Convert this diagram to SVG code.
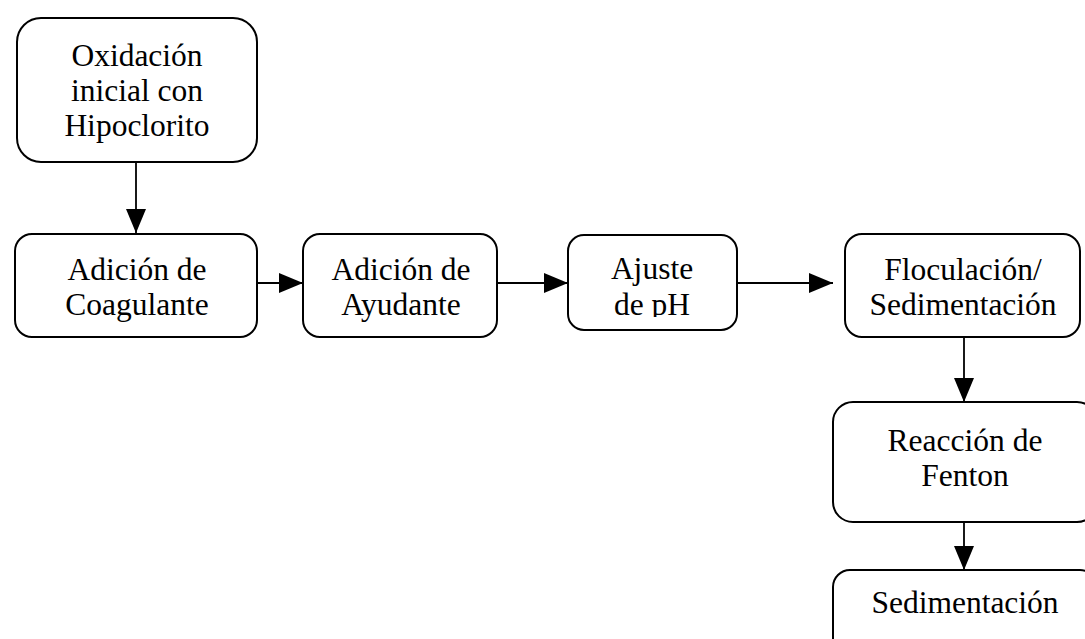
<svg xmlns="http://www.w3.org/2000/svg" width="1085" height="639" viewBox="0 0 1085 639">
<style>
.box{fill:#fff;stroke:#000;stroke-width:2}
.t{font-family:"Liberation Serif","Times New Roman",serif;font-size:31.5px;fill:#000;text-anchor:middle}
.c{stroke:#000;stroke-width:1.8;fill:none;marker-end:url(#ah)}
</style>
<defs>
<marker id="ah" viewBox="0 0 24 20" refX="24" refY="10" markerWidth="24" markerHeight="20" markerUnits="userSpaceOnUse" orient="auto">
<path d="M0,0 L24,10 L0,20 Z" fill="#000"/>
</marker>
<clipPath id="clipPh"><rect x="560" y="230" width="180" height="87"/></clipPath>
</defs>
<rect width="1085" height="639" fill="#fff"/>
<g id="connectors">
<line class="c" x1="136" y1="162" x2="136" y2="233"/>
<line class="c" x1="257" y1="283" x2="303" y2="283"/>
<line class="c" x1="497" y1="283" x2="568" y2="283"/>
<line class="c" x1="737" y1="283" x2="833" y2="283"/>
<line class="c" x1="964" y1="337" x2="964" y2="402"/>
<line class="c" x1="964" y1="522" x2="964" y2="570"/>
</g>
<g id="n1">
<rect class="box" x="17" y="18" width="240" height="144" rx="24"/>
<text class="t" x="137" y="66">Oxidación</text>
<text class="t" x="137" y="101">inicial con</text>
<text class="t" x="137" y="136">Hipoclorito</text>
</g>
<g id="n2">
<rect class="box" x="15" y="234" width="242" height="103" rx="17"/>
<text class="t" x="137" y="280">Adición de</text>
<text class="t" x="137" y="315">Coagulante</text>
</g>
<g id="n3">
<rect class="box" x="303" y="234" width="194" height="103" rx="17"/>
<text class="t" x="401" y="280">Adición de</text>
<text class="t" x="401" y="315">Ayudante</text>
</g>
<g id="n4">
<rect class="box" x="568" y="235" width="169" height="95" rx="16"/>
<g clip-path="url(#clipPh)">
<text class="t" x="652" y="279">Ajuste</text>
<text class="t" x="652" y="315">de pH</text>
</g>
</g>
<g id="n5">
<rect class="box" x="845" y="234" width="235" height="103" rx="17"/>
<text class="t" x="963" y="280">Floculación/</text>
<text class="t" x="963" y="315">Sedimentación</text>
</g>
<g id="n6">
<rect class="box" x="833" y="402" width="264" height="120" rx="20"/>
<text class="t" x="965" y="451">Reacción de</text>
<text class="t" x="965" y="486">Fenton</text>
</g>
<g id="n7">
<rect class="box" x="833" y="570" width="264" height="100" rx="17"/>
<text class="t" x="965" y="613">Sedimentación</text>
</g>
</svg>
